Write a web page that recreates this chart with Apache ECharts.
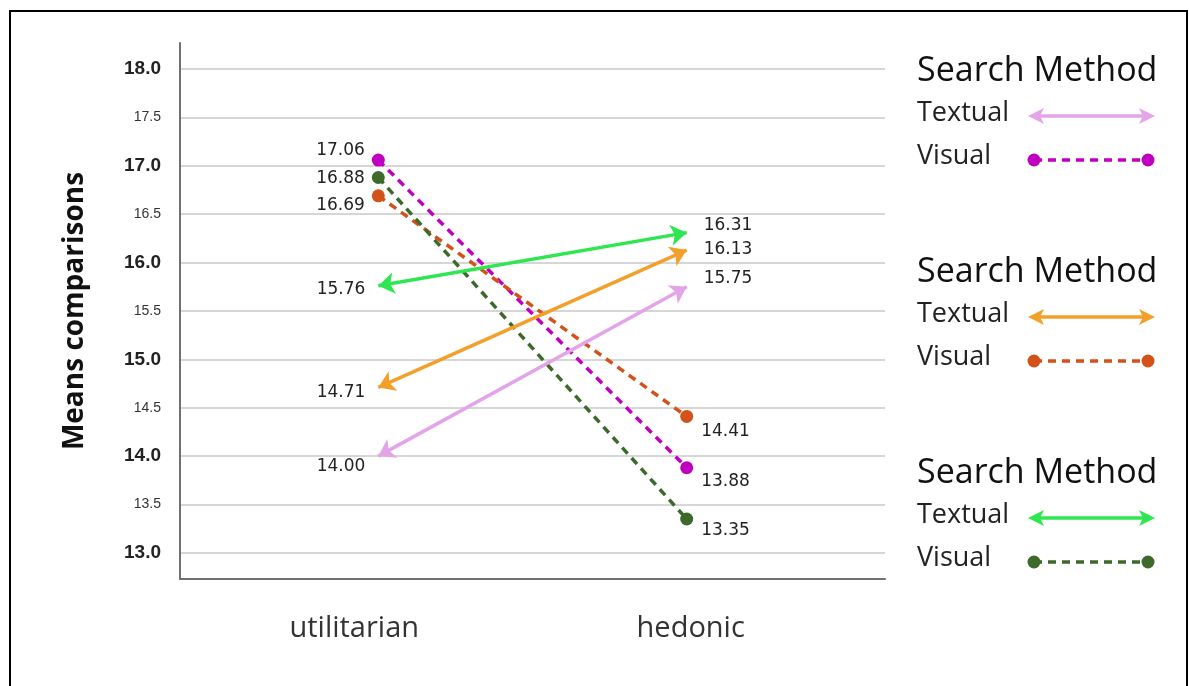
<!DOCTYPE html>
<html>
<head>
<meta charset="utf-8">
<script src="https://cdn.jsdelivr.net/npm/echarts@6/dist/echarts.min.js"></script>
<style>
  html, body { margin: 0; padding: 0; background: #fff; }
  #chart { width: 1189px; height: 686px; }
</style>
</head>
<body>
<div id="chart"></div>
<script>
// Product type on the x axis, mean number of comparisons on the y axis
const categories = ['utilitarian', 'hedonic'];
const yTicks = [13, 13.5, 14, 14.5, 15, 15.5, 16, 16.5, 17, 17.5, 18];

// Three Search Method panels, each a Textual / Visual pair
const textualA = [14.00, 15.75];
const visualA  = [17.06, 13.88];
const textualB = [14.71, 16.13];
const visualB  = [16.69, 14.41];
const textualC = [15.76, 16.31];
const visualC  = [16.88, 13.35];

const legendTitle = 'Search Method';
const methodNames = ['Textual', 'Visual'];

const NUM_FONT = 'DejaVu Sans';
const TICK_FONT = 'Liberation Sans';
const TXT_FONT = 'Open Sans';

// colour and label nudges for each panel
const panels = [
  { textual: textualA, visual: visualA, tColor: '#e3a4ea', vColor: '#bf00bf',
    tLabelDy: [10, -8], vLabelDy: [-9, 14] },
  { textual: textualB, visual: visualB, tColor: '#f2a02a', vColor: '#d2521a',
    tLabelDy: [5, 0], vLabelDy: [10, 15] },
  { textual: textualC, visual: visualC, tColor: '#2ee650', vColor: '#3d6a2a',
    tLabelDy: [4, -7], vLabelDy: [1, 12] }
];

function pointData(values, dys, gaps) {
  return values.map((v, i) => ({
    value: [i, v],
    label: {
      position: i === 0 ? 'left' : 'right',
      distance: gaps[i],
      offset: [0, dys[i]]
    }
  }));
}

const labelStyle = {
  show: true,
  fontFamily: NUM_FONT,
  fontSize: 17,
  color: '#222',
  formatter: p => p.value[1].toFixed(2)
};

const series = [];
panels.forEach(p => {
  // Visual: dashed line with round markers
  series.push({
    type: 'line',
    name: methodNames[1],
    data: pointData(p.visual, p.vLabelDy, [7, 8]),
    symbol: 'circle',
    symbolSize: 13,
    itemStyle: { color: p.vColor },
    lineStyle: { color: p.vColor, width: 3.5, type: [8, 6] },
    label: labelStyle,
    z: 2,
    animation: false
  });
});
panels.forEach(p => {
  // Textual: double-headed arrow
  series.push({
    type: 'lines',
    name: methodNames[0],
    coordinateSystem: 'cartesian2d',
    data: [{ coords: p.textual.map((v, i) => [i, v]) }],
    symbol: ['arrow', 'arrow'],
    symbolSize: 16,
    lineStyle: { color: p.tColor, width: 3.5, opacity: 1, curveness: 0 },
    z: 3,
    animation: false
  });
  // value labels at the arrow ends
  series.push({
    type: 'line',
    name: methodNames[0],
    data: pointData(p.textual, p.tLabelDy, [13, 17]),
    symbol: 'circle',
    symbolSize: 0,
    itemStyle: { color: 'rgba(0,0,0,0)' },
    lineStyle: { opacity: 0 },
    label: labelStyle,
    z: 4,
    animation: false
  });
});

// Frame and the legend blocks on the right
const graphic = [{
  type: 'rect',
  shape: { x: 10, y: 11, width: 1177, height: 700 },
  style: { fill: 'none', stroke: '#000', lineWidth: 2 },
  z: -10
}];

function arrowHead(tipX, y, dir, color) {
  // dir = 1 points right, -1 points left
  return {
    type: 'polygon',
    shape: { points: [[tipX, y], [tipX - dir * 16, y - 8], [tipX - dir * 12, y], [tipX - dir * 16, y + 8]] },
    style: { fill: color }
  };
}

const blockTops = [69, 270, 471];
panels.forEach((p, k) => {
  const top = blockTops[k];
  graphic.push({
    type: 'text', x: 917, y: top + 2,
    style: { text: legendTitle, font: '34px "Open Sans"', fill: '#111', verticalAlign: 'middle' }
  });
  const ty = top + 47, vy = top + 91;
  graphic.push({
    type: 'text', x: 917, y: ty - 3,
    style: { text: methodNames[0], font: '27px "Open Sans"', fill: '#222', verticalAlign: 'middle' }
  });
  graphic.push({
    type: 'text', x: 917, y: vy - 4,
    style: { text: methodNames[1], font: '27px "Open Sans"', fill: '#222', verticalAlign: 'middle' }
  });
  // textual swatch
  graphic.push({
    type: 'line', shape: { x1: 1036, y1: ty, x2: 1147, y2: ty },
    style: { stroke: p.tColor, lineWidth: 3.5 }
  });
  graphic.push(arrowHead(1028, ty, -1, p.tColor), arrowHead(1155, ty, 1, p.tColor));
  // visual swatch
  graphic.push({
    type: 'line', shape: { x1: 1034, y1: vy, x2: 1148, y2: vy },
    style: { stroke: p.vColor, lineWidth: 3.5, lineDash: [8, 6] }
  });
  graphic.push({ type: 'circle', shape: { cx: 1034, cy: vy, r: 6.5 }, style: { fill: p.vColor } });
  graphic.push({ type: 'circle', shape: { cx: 1148, cy: vy, r: 6.5 }, style: { fill: p.vColor } });
});

// where the two category names sit along the x axis
const categoryLabelAnchors = [-0.078, 1.013];

const chart = echarts.init(document.getElementById('chart'), null, { renderer: 'canvas' });
chart.setOption({
  backgroundColor: '#fff',
  animation: false,
  grid: { left: 180, right: 304, top: 43, bottom: 107, containLabel: false, outerBoundsMode: 'none' },
  xAxis: {
    type: 'value',
    min: -0.643,
    max: 1.643,
    axisLine: { show: true, onZero: false, lineStyle: { color: '#707070', width: 2 } },
    axisTick: { show: false, customValues: categoryLabelAnchors },
    splitLine: { show: false },
    axisLabel: {
      customValues: categoryLabelAnchors,
      formatter: v => categories[Math.round(v)],
      fontFamily: TXT_FONT,
      fontSize: 29,
      color: '#333',
      margin: 35
    }
  },
  yAxis: {
    type: 'value',
    min: 12.73,
    max: 18.27,
    name: 'Means comparisons',
    nameLocation: 'middle',
    nameGap: 91,
    nameTextStyle: { fontFamily: TXT_FONT, fontSize: 28, fontWeight: 'bold', color: '#111' },
    axisLine: { show: true, onZero: false, lineStyle: { color: '#707070', width: 2 } },
    axisTick: { show: false, customValues: yTicks },
    splitLine: { show: true, lineStyle: { color: '#c8c8c8', width: 1.5 } },
    axisLabel: {
      customValues: yTicks,
      margin: 19,
      formatter: v => (Math.abs(v - Math.round(v)) < 1e-9 ? '{a|' : '{b|') + v.toFixed(1) + '}',
      rich: {
        a: { fontFamily: TICK_FONT, fontSize: 19, fontWeight: 'bold', color: '#222' },
        b: { fontFamily: TICK_FONT, fontSize: 14, color: '#333' }
      }
    }
  },
  series: series,
  graphic: graphic
});
</script>
</body>
</html>
